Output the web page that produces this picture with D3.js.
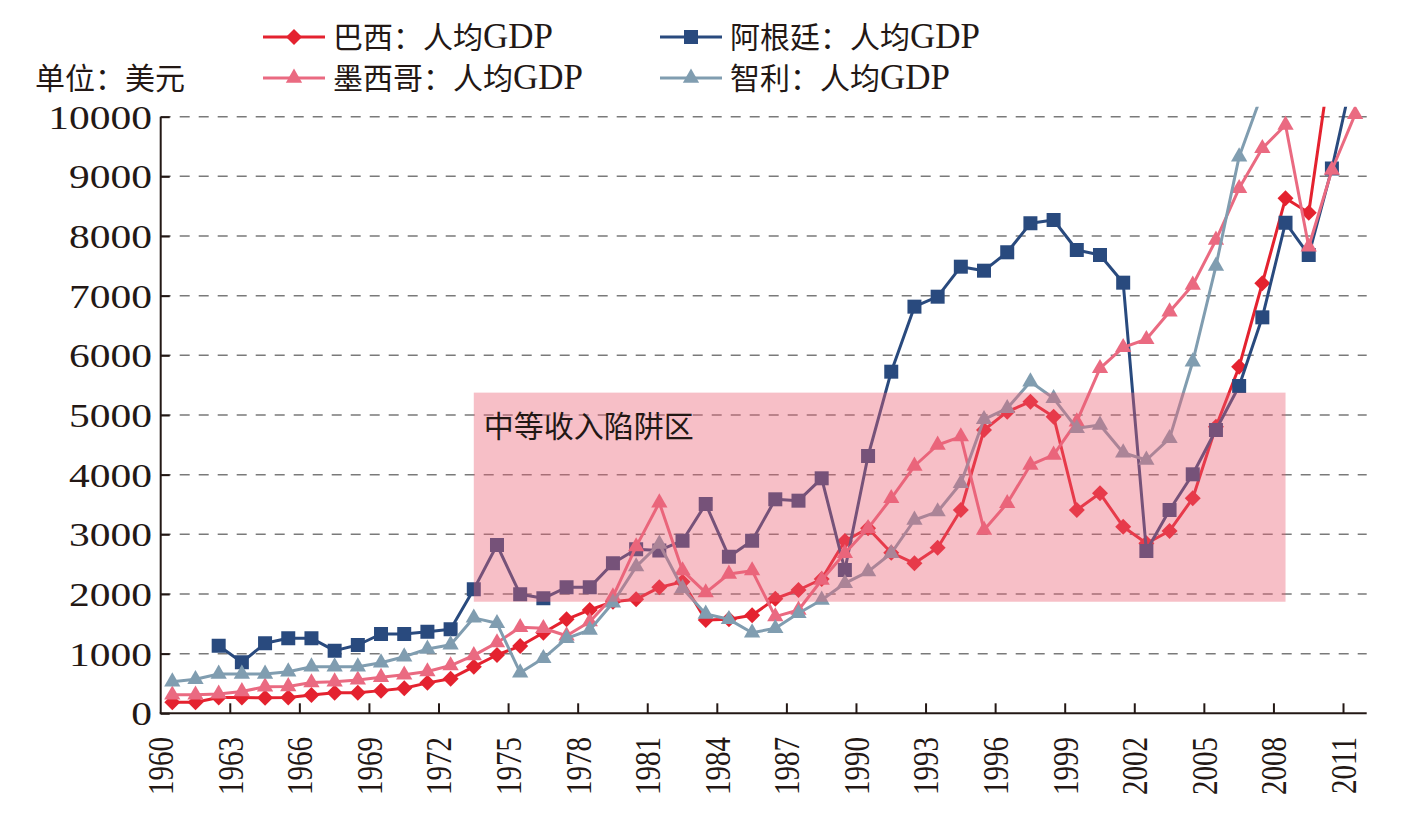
<!DOCTYPE html>
<html>
<head>
<meta charset="utf-8">
<script src="https://cdn.jsdelivr.net/npm/d3@7"></script>
<style>
  body { margin: 0; background: #fff; }
  svg text { font-family: "Liberation Serif", "Noto Sans CJK SC", serif; fill: #231815; }
</style>
</head>
<body>
<div id="chart"></div>
<script>
// years on the category axis
var years = d3.range(1960, 2012);
var tickYears = d3.range(1960, 2012, 3);
var yTicks = [0, 1000, 2000, 3000, 4000, 5000, 6000, 7000, 8000, 9000, 10000];

// GDP per capita (USD)
var brazilYears = d3.range(1960, 2011);
var brazil = [185, 185, 265, 265, 260, 265, 305, 345, 345, 380,
  420, 510, 580, 781, 977, 1128, 1351, 1575, 1732, 1871,
  1910, 2111, 2206, 1564, 1575, 1642, 1921, 2067, 2251, 2888,
  3101, 2692, 2514, 2776, 3408, 4749, 5056, 5223, 4972, 3408,
  3688, 3128, 2849, 3056, 3604, 4804, 5810, 7208, 8632, 8391,
  11080];

var argentinaYears = d3.range(1962, 2012);
var argentina = [1133, 855, 1173, 1257, 1257, 1050, 1145, 1329,
  1329, 1368, 1408, 2078, 2821, 1994, 1927, 2111, 2111, 2514,
  2750, 2730, 2893, 3508, 2625, 2893, 3587, 3564, 3939, 2402,
  4313, 5726, 6816, 6983, 7486, 7419, 7727, 8213, 8268, 7766,
  7682, 7218, 2720, 3408, 4006, 4749, 5486, 6637, 8224, 7682,
  9132, 10880];

var mexicoYears = d3.range(1960, 2012);
var mexico = [310, 310, 325, 365, 445, 450, 515, 530, 560, 605,
  645, 700, 800, 970, 1184, 1441, 1425, 1300, 1536, 1955,
  2793, 3530, 2391, 2022, 2335, 2391, 1620, 1732, 2235, 2682,
  3101, 3604, 4145, 4497, 4637, 3073, 3520, 4162, 4330, 4888,
  5782, 6134, 6269, 6731, 7179, 7933, 8800, 9470, 9861, 7821,
  9107, 10040];

var chileYears = d3.range(1960, 2008);
var chile = [530, 570, 659, 659, 659, 697, 781, 781, 781, 848,
  949, 1078, 1150, 1600, 1508, 681, 922, 1257, 1396, 1854,
  2458, 2838, 2095, 1664, 1575, 1351, 1425, 1676, 1899, 2179,
  2374, 2682, 3240, 3380, 3855, 4928, 5112, 5558, 5280, 4777,
  4832, 4368, 4246, 4609, 5893, 7497, 9330, 10400];

// the shaded "middle income trap" zone
var trapYears = [1973, 2008];
var trapValues = [1870, 5375];
var trapLabel = "中等收入陷阱区";

var seriesNames = ["巴西：人均GDP", "阿根廷：人均GDP", "墨西哥：人均GDP", "智利：人均GDP"];
var unitLabel = "单位：美元";

var width = 1417, height = 825;
// plot box edges (named so they don't clash with window.top)
var plotLeft = 160.7, plotRight = 1366.7, plotTop = 116.7, plotBottom = 713.3;
// the original's latin digits are drawn a bit wide
var stretch = 1.22;

var svg = d3.select("#chart").append("svg")
  .attr("width", width)
  .attr("height", height);

var xScale = d3.scaleBand()
  .domain(years)
  .range([plotLeft, plotRight])
  .padding(0);

var yScale = d3.scaleLinear()
  .domain([0, 10000])
  .range([plotBottom, plotTop]);

function cx(yr) { return xScale(yr) + xScale.bandwidth() / 2; }

// dashed grid lines
svg.append("g")
  .selectAll("line")
  .data(yTicks.slice(1))
  .enter()
  .append("line")
  .attr("x1", plotLeft)
  .attr("x2", plotRight)
  .attr("y1", function(d) { return yScale(d); })
  .attr("y2", function(d) { return yScale(d); })
  .attr("stroke", "#7a7a7a")
  .attr("stroke-width", 1.5)
  .attr("stroke-dasharray", "10,9");

// clip so lines leaving the top get cut a bit above 10000
svg.append("clipPath")
  .attr("id", "plotClip")
  .append("rect")
  .attr("x", plotLeft)
  .attr("y", plotTop - 10)
  .attr("width", plotRight - plotLeft + 2)
  .attr("height", plotBottom - plotTop + 12);

// diamond like excel's (square turned 45 degrees)
function diamond(r) {
  return "M0," + (-r) + "L" + r + ",0L0," + r + "L" + (-r) + ",0Z";
}

var series = [
  { name: seriesNames[0], years: brazilYears, values: brazil, color: "#e4222f", shape: "diamond" },
  { name: seriesNames[1], years: argentinaYears, values: argentina, color: "#294a7e", shape: "square" },
  { name: seriesNames[2], years: mexicoYears, values: mexico, color: "#ea6a81", shape: "triangle" },
  { name: seriesNames[3], years: chileYears, values: chile, color: "#809db0", shape: "triangle" }
];

function markerPath(shape) {
  if (shape == "diamond") return diamond(8);
  if (shape == "square") return d3.symbol().type(d3.symbolSquare).size(196)();
  return d3.symbol().type(d3.symbolTriangle).size(115)();
}

var plot = svg.append("g").attr("clip-path", "url(#plotClip)");

series.forEach(function(s) {
  var pts = s.years.map(function(yr, i) { return [cx(yr), yScale(s.values[i])]; });

  plot.append("path")
    .attr("d", d3.line()(pts))
    .attr("fill", "none")
    .attr("stroke", s.color)
    .attr("stroke-width", 3)
    .attr("stroke-linejoin", "round");

  plot.append("g")
    .selectAll("path")
    .data(pts)
    .enter()
    .append("path")
    .attr("d", markerPath(s.shape))
    .attr("transform", function(d) { return "translate(" + d[0] + "," + d[1] + ")"; })
    .attr("fill", s.color);
});

// pink box on top, see-through so the lines turn purple inside
svg.append("rect")
  .attr("x", cx(trapYears[0]))
  .attr("y", yScale(trapValues[1]))
  .attr("width", cx(trapYears[1]) - cx(trapYears[0]))
  .attr("height", yScale(trapValues[0]) - yScale(trapValues[1]))
  .attr("fill", "#eb5f73")
  .attr("opacity", 0.4);

svg.append("text")
  .attr("x", cx(trapYears[0]) + 10)
  .attr("y", yScale(trapValues[1]) + 44)
  .style("font-size", "30px")
  .text(trapLabel);

// y axis, ticks point inward
var yAxis = svg.append("g")
  .attr("transform", "translate(" + plotLeft + ",0)")
  .call(d3.axisRight(yScale).tickValues(yTicks).tickSize(9).tickFormat(""));
yAxis.select(".domain").attr("stroke", "#231815").attr("stroke-width", 2).attr("d", "M0," + plotTop + "V" + plotBottom);
yAxis.selectAll(".tick line").attr("stroke", "#231815").attr("stroke-width", 2);

svg.append("g")
  .selectAll("text")
  .data(yTicks)
  .enter()
  .append("text")
  .attr("transform", function(d) { return "translate(152," + yScale(d) + ") scale(" + stretch + ",1)"; })
  .attr("dy", "0.35em")
  .attr("text-anchor", "end")
  .style("font-size", "34px")
  .text(function(d) { return d; });

// x axis: tick + label at the left edge of each labelled band
var xAxis = svg.append("g");
xAxis.append("line")
  .attr("x1", plotLeft - 1)
  .attr("x2", plotRight)
  .attr("y1", plotBottom)
  .attr("y2", plotBottom)
  .attr("stroke", "#231815")
  .attr("stroke-width", 2);

xAxis.selectAll(".xtick")
  .data(tickYears.slice(1))
  .enter()
  .append("line")
  .attr("class", "xtick")
  .attr("x1", function(d) { return xScale(d); })
  .attr("x2", function(d) { return xScale(d); })
  .attr("y1", plotBottom)
  .attr("y2", plotBottom - 10)
  .attr("stroke", "#231815")
  .attr("stroke-width", 2);

xAxis.selectAll(".xlabel")
  .data(tickYears)
  .enter()
  .append("text")
  .attr("class", "xlabel")
  .attr("transform", function(d) { return "translate(" + xScale(d) + ",737) scale(" + stretch + ",1) rotate(-90)"; })
  .attr("dy", "0.35em")
  .attr("text-anchor", "end")
  .style("font-size", "29px")
  .text(function(d) { return d; });

// legend, two rows by two columns
var legendPos = [[263, 37], [660, 37], [263, 78], [660, 78]];
var legend = svg.append("g");
series.forEach(function(s, i) {
  var lx = legendPos[i][0], ly = legendPos[i][1];
  legend.append("line")
    .attr("x1", lx).attr("x2", lx + 62)
    .attr("y1", ly).attr("y2", ly)
    .attr("stroke", s.color)
    .attr("stroke-width", 3);
  legend.append("path")
    .attr("d", markerPath(s.shape))
    .attr("transform", "translate(" + (lx + 31) + "," + ly + ")")
    .attr("fill", s.color);
  var t = legend.append("text")
    .attr("x", lx + 70)
    .attr("y", ly)
    .attr("dy", "0.36em")
    .style("font-size", "30px");
  t.append("tspan").text(s.name.replace("GDP", ""));
  t.append("tspan").style("font-size", "35px").text("GDP");
});

svg.append("text")
  .attr("x", 35)
  .attr("y", 78)
  .attr("dy", "0.36em")
  .style("font-size", "30px")
  .text(unitLabel);
</script>
</body>
</html>
